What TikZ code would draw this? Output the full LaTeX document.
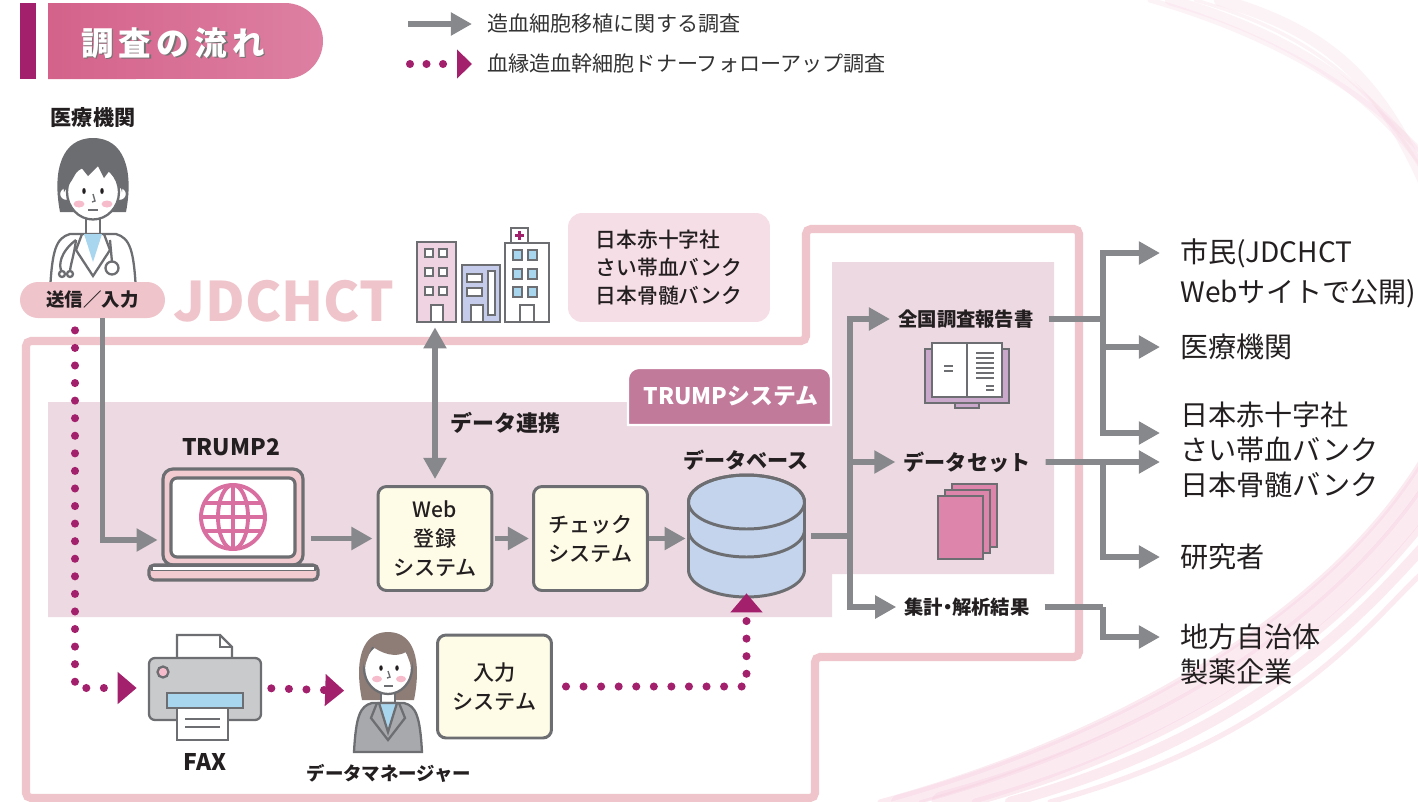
\documentclass[tikz,border=0pt]{standalone}
\usepackage{fontspec}
\setmainfont{Noto Sans CJK JP}
\newfontfamily\midweight{Noto Sans CJK JP}[UprightFont={* Medium}]
\usetikzlibrary{positioning,arrows.meta,calc}

\definecolor{inkblack}{HTML}{231F20}
\definecolor{flowgray}{HTML}{87888B}
\definecolor{edgegray}{HTML}{6D6E71}
\definecolor{donor}{HTML}{A3206C}
\definecolor{framepink}{HTML}{EFC4CB}
\definecolor{areapink}{HTML}{EDD9E2}
\definecolor{tabmauve}{HTML}{C27A9B}
\definecolor{boxcream}{HTML}{FEFBE7}
\definecolor{infopink}{HTML}{F6DEE6}
\definecolor{dbblue}{HTML}{C4D4EC}
\definecolor{sheetpink}{HTML}{DD85AB}
\definecolor{globepink}{HTML}{D86FA0}
\definecolor{lappink}{HTML}{F2CBD1}
\definecolor{bookpurple}{HTML}{C9A8CC}
\definecolor{buildpink}{HTML}{EFD3E3}
\definecolor{buildblue}{HTML}{C5CBEA}
\definecolor{winblue}{HTML}{A9D6EF}
\definecolor{hairgray}{HTML}{6C6D70}
\definecolor{hairbrown}{HTML}{8E7D77}
\definecolor{suitgray}{HTML}{A8A9AC}
\definecolor{printgray}{HTML}{C9CACC}
\definecolor{cheek}{HTML}{F7BCCB}
\definecolor{swoosh}{HTML}{F6D3E1}
\definecolor{titleleft}{HTML}{D4628A}
\definecolor{titleright}{HTML}{DD80A2}

\begin{document}
\begin{tikzpicture}[x=0.02cm,y=-0.02cm,>={Triangle[length=12pt,width=12.5pt]},
	flow/.style={draw=flowgray,line width=3.4pt,->},
	both/.style={draw=flowgray,line width=3.4pt,<->},
	feed/.style={draw=flowgray,line width=3.4pt},
	follow/.style={draw=donor,line width=4.6pt,line cap=round,
		dash pattern=on 0pt off 10pt,-{Triangle[length=10.8pt,width=17.6pt]}},
	tag/.style={font=\bfseries\fontsize{12}{15}\selectfont,text=inkblack,inner sep=0.08cm},
	sysbox/.style={draw=edgegray,line width=1.7pt,fill=boxcream,rounded corners=0.17cm,
		minimum width=2.28cm,minimum height=2.08cm,align=center,
		font=\midweight\fontsize{12}{16.5}\selectfont,text=inkblack},
	recipient/.style={anchor=west,inner xsep=0.4cm,inner ysep=0pt,align=left,
		font=\fontsize{16}{19.8}\selectfont,text=inkblack},
	legend/.style={anchor=west,inner sep=0pt,font=\fontsize{12}{15}\selectfont,text=black!80},
	icon/.style={draw=edgegray,line width=1.3pt},
]
\useasboundingbox (0,0) rectangle (1418,802);

% soft swooshes on the right
\begin{scope}[swoosh,line cap=round,opacity=0.45]
	\foreach \o/\w in {0/3,18/8,40/2,62/12,95/4,130/6,170/3}
		\draw[line width=\w pt] (880+\o,802) .. controls (1180+\o,720) and (1400,560) .. (1460,380+\o);
\end{scope}
\begin{scope}[swoosh,line cap=round,opacity=0.28]
	\foreach \o/\w in {0/3,20/6,45/2,70/7}
		\draw[line width=\w pt] (1150+\o,0) .. controls (1290+\o,40) and (1400,110) .. (1460,200+\o);
\end{scope}

% heading
\fill[donor] (20,3) rectangle (36,79);
\shade[left color=titleleft,right color=titleright] (48,3) -- (285,3)
	arc[start angle=90,end angle=-90,radius=0.76cm] -- (48,79) -- cycle;
\node[font=\bfseries\fontsize{18.5}{21}\selectfont,text=black!55] at (174.5,44.5)
	{調\hspace{3pt}査\hspace{3pt}の\hspace{3pt}流\hspace{3pt}れ};
\node[font=\bfseries\fontsize{18.5}{21}\selectfont,text=white] (title) at (173,43)
	{調\hspace{3pt}査\hspace{3pt}の\hspace{3pt}流\hspace{3pt}れ};

% legend
\node[legend] (lgtext1) at (487,24) {造血細胞移植に関する調査};
\node[legend] (lgtext2) at (487,64) {血縁造血幹細胞ドナーフォローアップ調査};
\coordinate (lgflow) at (408,24);
\coordinate (lgdot) at (410,64);
\draw[flow,line width=3pt] (lgflow) -- ([xshift=-0.3cm]lgtext1.west);
\draw[follow,dash pattern=on 0pt off 9.4pt,-{Triangle[length=8.5pt,width=16pt]}]
	(lgdot) -- ([xshift=-0.3cm]lgtext2.west);

% JDCHCT frame and TRUMP area
\draw[framepink,line width=4.6pt,rounded corners=0.1cm] (26,341) -- (806,341) -- (806,229)
	-- (1079,229) -- (1079,657) -- (815,657) -- (815,798) -- (26,798) -- cycle;
\fill[areapink] (48,402) -- (832,402) -- (832,262) -- (1054,262) -- (1054,574)
	-- (832,574) -- (832,617) -- (48,617) -- cycle;
\fill[tabmauve,draw=white,line width=1.2pt] (628,425) [rounded corners=0.22cm] -- (628,368)
	-- (831,368) [sharp corners] -- (831,425) -- cycle;
\node[font=\bfseries\fontsize{13}{15}\selectfont,text=white] (tab) at (731,396) {TRUMPシステム};
\node[font=\bfseries\fontsize{31}{31}\selectfont,text=framepink] (jd) at (284,301) {JDCHCT};

% doctor
\node[tag,font=\bfseries\fontsize{12}{15}\selectfont] (doclbl) at (93,118) {医療機関};
\fill[hairgray] (60,212) .. controls (52,170) and (62,138) .. (93,138)
	.. controls (124,138) and (134,170) .. (126,212) -- cycle;
\draw[icon,fill=white] (86,212) rectangle (100,236);
\draw[icon,fill=white] (70,234) -- (116,234) .. controls (130,238) and (134,250) .. (136,292)
	-- (50,292) .. controls (52,250) and (56,238) .. (70,234) -- cycle;
\fill[winblue] (84,234) -- (102,234) -- (93,262) -- cycle;
\draw[icon] (82,234) -- (76,250) -- (93,276) -- (110,250) -- (104,234);
\draw[icon] (76,240) .. controls (60,252) and (58,266) .. (62,272);
\draw[icon] (76,240) .. controls (74,256) and (70,266) .. (70,272);
\draw[icon,fill=white] (62,274) circle (0.06cm) (70,274) circle (0.06cm);
\draw[icon] (110,240) -- (112,262);
\draw[icon,fill=white] (112,268) circle (0.13cm);
\draw[icon,fill=white] (66,194) circle (0.14cm) (120,194) circle (0.14cm);
\draw[icon,fill=white] (93,192) ellipse (0.52cm and 0.55cm);
\fill[cheek] (79,204) ellipse (0.11cm and 0.07cm) (107,204) ellipse (0.11cm and 0.07cm);
\fill[hairgray] (64,192) .. controls (60,160) and (72,144) .. (93,144)
	.. controls (114,144) and (126,160) .. (122,192) -- (118,176) -- (110,170) -- (104,178)
	-- (98,166) -- (88,176) -- (80,166) -- (72,180) -- cycle;
\fill[inkblack] (84,191) ellipse (0.035cm and 0.06cm) (102,191) ellipse (0.035cm and 0.06cm);
\draw[icon,line width=0.8pt] (93,194) -- (95,201) -- (92,202);
\draw[icon,line width=0.8pt] (88,210) -- (98,210);
\node[fill=framepink,rounded corners=0.36cm,minimum width=2.9cm,minimum height=0.72cm,
	font=\bfseries\fontsize{10.5}{12}\selectfont,text=inkblack] (send) at (92.5,300) {送信／入力};

% partner buildings
\node[minimum width=2.66cm,minimum height=1.88cm] (bldg) at (483,275) {};
\draw[icon,fill=buildpink] (417,242) rectangle (456,322);
\foreach \wy in {249,268,287}
	\draw[icon,fill=white] (425,\wy) rectangle +(8,8) (439,\wy) rectangle +(8,8);
\draw[icon,fill=white] (431,305) rectangle (443,322);
\draw[icon,fill=buildblue] (462,265) rectangle (500,322);
\draw[icon,fill=white] (467,274) rectangle (482,282) (467,288) rectangle (482,296)
	(488,271) rectangle (495,315) (471,305) rectangle (483,322);
\draw[icon,fill=white] (511,228) rectangle (528,243);
\draw[donor,line width=1.8pt] (519.5,231) -- (519.5,240) (515,235.5) -- (524,235.5);
\draw[icon,fill=white] (505,243) rectangle (549,322);
\foreach \wy in {250,269,287}
	\draw[icon,fill=winblue] (513,\wy) rectangle +(9,10) (528,\wy) rectangle +(9,10);
\draw[icon,fill=white] (520,305) rectangle (534,322);
\node[fill=infopink,rounded corners=0.28cm,minimum width=4.04cm,minimum height=2.18cm,
	align=left,font=\midweight\fontsize{11.8}{16}\selectfont,text=inkblack] (banks)
	at (669,267.5) {日本赤十字社\\さい帯血バンク\\日本骨髄バンク};

% TRUMP2 laptop
\node[tag,font=\bfseries\fontsize{13}{15}\selectfont] (trumplbl) at (231,447) {TRUMP2};
\node[minimum width=2.8cm,minimum height=1.92cm] (laptop) at (233,517) {};
\draw[icon,line width=1.8pt,fill=lappink,rounded corners=0.2cm] (163,469) rectangle (303,565);
\draw[icon,line width=1.8pt,fill=white,rounded corners=0.12cm] (171,478) rectangle (295,557);
\draw[icon,line width=1.8pt,fill=lappink,rounded corners=0.1cm] (149,565) rectangle (318,580);
\draw[icon,line width=0.8pt,fill=white] (152,566.5) rectangle (315,570.5);
\begin{scope}[globepink,line width=2.2pt]
	\draw (233,517) circle (0.64cm);
	\draw (233,485) -- (233,549) (201,517) -- (265,517);
	\draw (233,517) ellipse (0.3cm and 0.64cm);
	\draw (204,503) -- (262,503) (204,531) -- (262,531);
\end{scope}

% registration chain
\node[sysbox] (web) at (435,538.5) {Web\\登録\\システム};
\node[sysbox] (check) at (590.5,538.5) {チェック\\システム};
\node[minimum width=2.34cm,minimum height=2.44cm] (db) at (746.5,536) {};
\node[tag] (dblbl) at (746,460) {データベース};
\draw[icon,line width=1.7pt,fill=dbblue] (688.5,502) -- (688.5,570)
	arc[start angle=180,end angle=360,x radius=1.16cm,y radius=0.54cm] -- (804.5,502)
	arc[start angle=0,end angle=180,x radius=1.16cm,y radius=0.54cm] -- cycle;
\draw[icon,line width=1.7pt] (746.5,502) ellipse (1.16cm and 0.54cm);
\draw[icon,line width=1.7pt] (688.5,530) arc[start angle=180,end angle=360,x radius=1.16cm,y radius=0.54cm];
\node[tag,anchor=west,inner sep=0pt,font=\bfseries\fontsize{12.5}{15}\selectfont] (link) at (450,423) {データ連携};

\draw[flow,shorten >=0.1cm] ([xshift=0.2cm]send.south) |- ([yshift=-0.46cm]laptop.west);
\draw[flow,shorten >=0.08cm] ([xshift=0.16cm]laptop.east |- web.west) -- (web.west);
\draw[flow,shorten <=0.04cm,shorten >=0.06cm] (web) -- (check);
\draw[flow,shorten >=0.04cm] (check.east) -- (check.east -| db.west);
\draw[both] ([yshift=-0.1cm]bldg.south -| web.north) -- ([yshift=0.12cm]web.north);

% outputs of the database
\node[tag,font=\bfseries\fontsize{11}{14}\selectfont,inner xsep=0.16cm] (report) at (966,319) {全国調査報告書};
\node[tag,inner xsep=0.16cm] (dataset) at (967,462) {データセット};
\node[tag,font=\bfseries\fontsize{11}{14}\selectfont,inner xsep=0.16cm] (result) at (967,607) {集計\kern-3pt・\kern-3pt解析結果};
\draw[icon,fill=bookpurple] (925,349) rectangle (1009,403);
\draw[icon,fill=bookpurple] (955,403) rectangle (979,408);
\draw[icon,fill=white] (932,343) rectangle (1002,397);
\draw[icon] (967,343) -- (967,397);
\draw[edgegray,line width=0.8pt] (944,366) -- (953,366) (944,371) -- (953,371)
	(976,353) -- (994,353) (976,358) -- (994,358) (976,363) -- (994,363) (976,368) -- (994,368)
	(976,373) -- (994,373) (976,378) -- (994,378) (986,386) -- (994,386) (986,390) -- (994,390);
\foreach \dx/\dy in {14/-12,7/-6,0/0}
	\draw[icon,fill=sheetpink] (938+\dx,496+\dy) rectangle +(45,63);
\coordinate (hub) at (850,536);
\draw[feed] ([xshift=0.12cm]db.east) -- (hub);
\draw[flow] (hub) |- (report.west);
\draw[flow] (hub) |- (dataset.west);
\draw[flow] (hub) |- (result.west);

% recipients
\node[recipient,font=\fontsize{16}{22.7}\selectfont] (citizen) at (1160,273) {市民(JDCHCT\\Webサイトで公開)};
\node[recipient] (hosp) at (1160,347) {医療機関};
\node[recipient] (banks2) at (1160,450) {日本赤十字社\\さい帯血バンク\\日本骨髄バンク};
\node[recipient] (research) at (1160,557) {研究者};
\node[recipient] (local) at (1160,654.5) {地方自治体\\製薬企業};
\coordinate (fork1) at (1103,319);
\coordinate (fork2) at (1103,462);
\coordinate (fork3) at (1103,607);
\draw[feed] ([xshift=0.14cm]report.east) -- (fork1);
\draw[flow] (fork1) |- ([yshift=0.4cm]citizen.west);
\draw[flow] (fork1) |- (hosp.west);
\draw[flow] (fork1) |- ([yshift=0.34cm]banks2.west);
\draw[flow] ([xshift=0.14cm]dataset.east) -- ([yshift=-0.24cm]banks2.west);
\draw[flow] (fork2) |- (research.west);
\draw[feed] ([xshift=0.14cm]result.east) -- (fork3);
\draw[flow] (fork3) |- ([yshift=0.35cm]local.west);

% FAX route
\node[minimum width=2.24cm,minimum height=2.1cm] (fax) at (205,688) {};
\draw[icon,fill=white] (177,673) -- (177,635) -- (220,635) -- (232,647) -- (232,673);
\draw[icon] (220,635) -- (220,647) -- (232,647);
\draw[icon,fill=printgray,rounded corners=0.12cm] (149,658) rectangle (261,720);
\draw[icon,fill=cheek] (163,672) circle (0.11cm);
\draw[icon,fill=winblue] (167,693) rectangle (243,708);
\draw[icon,fill=white] (177,708) rectangle (228,740);
\draw[edgegray,line width=0.8pt] (185,719) -- (220,719) (185,727) -- (220,727);
\node[tag,font=\bfseries\fontsize{13}{15}\selectfont] (faxlbl) at (205,762) {FAX};

% data manager
\node[minimum width=1.34cm,minimum height=2.44cm] (dm) at (388,691) {};
\fill[hairbrown] (362,700) .. controls (354,660) and (362,632) .. (388,632)
	.. controls (414,632) and (422,660) .. (414,700) -- cycle;
\draw[icon,fill=white] (381,690) rectangle (395,706);
\draw[icon,fill=suitgray] (372,703) -- (404,703) .. controls (416,706) and (420,716) .. (422,752)
	-- (354,752) .. controls (356,716) and (360,706) .. (372,703) -- cycle;
\draw[icon,fill=winblue] (379,703) -- (397,703) -- (388,732) -- cycle;
\draw[icon] (377,703) -- (371,718) -- (388,740) -- (405,718) -- (399,703);
\draw[icon,fill=white] (388,668) ellipse (0.48cm and 0.52cm);
\fill[cheek] (377,679) ellipse (0.1cm and 0.065cm) (401,679) ellipse (0.1cm and 0.065cm);
\fill[hairbrown] (364,668) .. controls (360,645) and (372,636) .. (390,636)
	.. controls (406,636) and (414,648) .. (412,668) -- (406,652)
	.. controls (396,658) and (382,654) .. (372,646) -- cycle;
\fill[inkblack] (381,668) ellipse (0.035cm and 0.055cm) (397,668) ellipse (0.035cm and 0.055cm);
\draw[icon,line width=0.8pt] (388,671) -- (390,677) -- (387,678);
\draw[icon,line width=0.8pt] (384,686) -- (393,686);
\node[tag,font=\bfseries\fontsize{10.5}{13}\selectfont] (dmlbl) at (389,773) {データマネージャー};
\node[sysbox,minimum height=2.06cm] (input) at (494.5,686.5) {入力\\システム};

% donor follow-up route
\draw[follow,shorten >=0.24cm] ([xshift=-0.35cm,yshift=-0.24cm]send.south) |- (fax.west);
\draw[follow,shorten <=0.2cm,shorten >=0.2cm] (fax.east) -- (dm.west);
\draw[follow,shorten <=0.26cm,shorten >=-0.08cm] (input.east) -| (db.south);
\end{tikzpicture}
\end{document}
